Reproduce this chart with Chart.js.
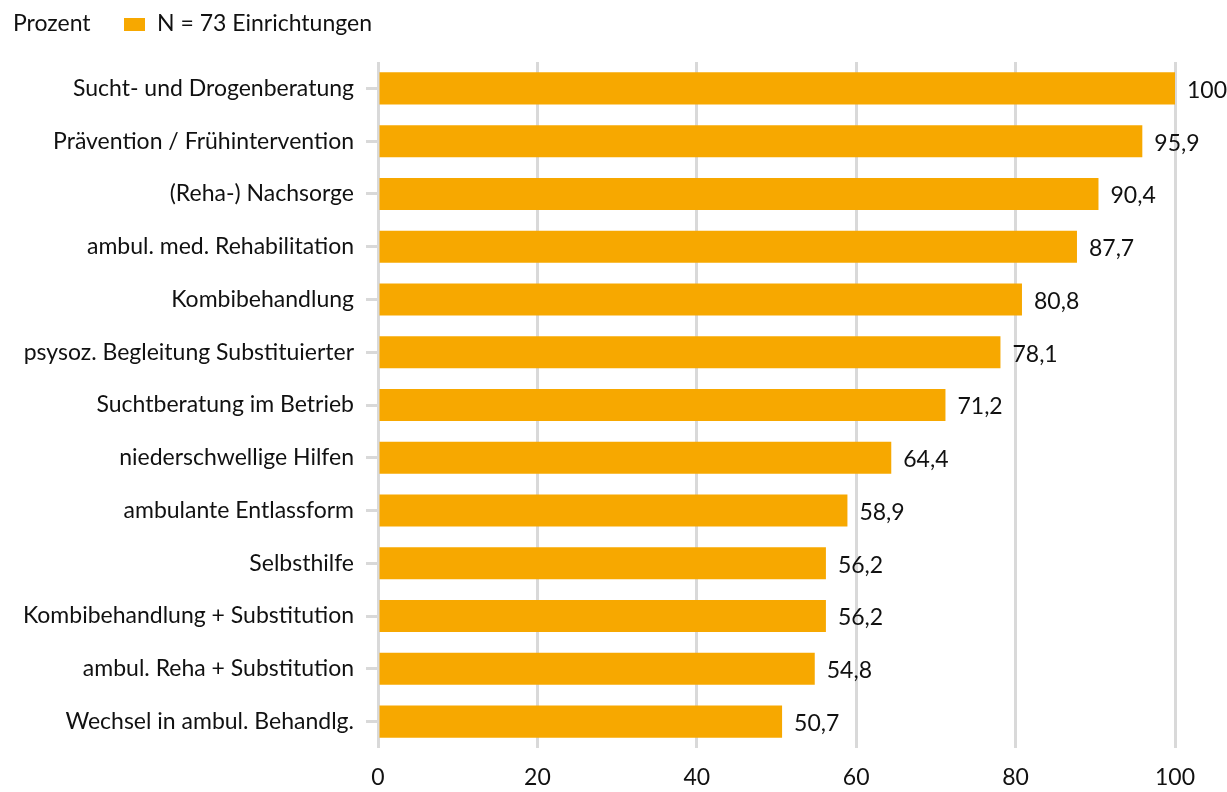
<!DOCTYPE html>
<html>
<head>
<meta charset="utf-8">
<script src="https://cdn.jsdelivr.net/npm/chart.js@4"></script>
<style>
  html, body { margin: 0; padding: 0; background: #fff; }
  #wrap { width: 1227px; height: 792px; }
</style>
</head>
<body>
<div id="wrap"><canvas id="barChart"></canvas></div>
<script>
// chart data
const categories = [
  'Sucht- und Drogenberatung',
  'Prävention / Frühintervention',
  '(Reha-) Nachsorge',
  'ambul. med. Rehabilitation',
  'Kombibehandlung',
  'psysoz. Begleitung Substituierter',
  'Suchtberatung im Betrieb',
  'niederschwellige Hilfen',
  'ambulante Entlassform',
  'Selbsthilfe',
  'Kombibehandlung + Substitution',
  'ambul. Reha + Substitution',
  'Wechsel in ambul. Behandlg.',
];
const values = [100, 95.9, 90.4, 87.7, 80.8, 78.1, 71.2, 64.4, 58.9, 56.2, 56.2, 54.8, 50.7];
const xTicks = [0, 20, 40, 60, 80, 100];
const unitLabel = 'Prozent';
const seriesLabel = 'N = 73 Einrichtungen';

// styles
const orange = '#F7A800';
const grid = '#D9D9D9';
const textColor = '#111111';
const font = 'Lato';
const fontSize = 23;

// draws "Prozent" + legend box on top row
const legendRow = {
  id: 'legendRow',
  afterDraw(chart) {
    const ctx = chart.ctx;
    ctx.save();
    ctx.font = `${fontSize}px ${font}`;
    ctx.fillStyle = textColor;
    ctx.textBaseline = 'middle';
    ctx.textAlign = 'left';
    ctx.fillText(unitLabel, 13, 24);
    ctx.fillStyle = orange;
    ctx.fillRect(124, 18, 21, 13);
    ctx.fillStyle = textColor;
    ctx.fillText(seriesLabel, 157, 24);
    ctx.restore();
  },
};

// value labels at the end of each bar
const valueLabels = {
  id: 'valueLabels',
  afterDatasetsDraw(chart) {
    const ctx = chart.ctx;
    const meta = chart.getDatasetMeta(0);
    ctx.save();
    ctx.font = `${fontSize}px ${font}`;
    ctx.fillStyle = textColor;
    ctx.textBaseline = 'middle';
    ctx.textAlign = 'left';
    meta.data.forEach((bar, i) => {
      const txt = String(values[i]).replace('.', ',');
      ctx.fillText(txt, bar.x + 12, bar.y + 2);
    });
    ctx.restore();
  },
};

const config = {
  type: 'bar',
  data: {
    labels: categories,
    datasets: [
      {
        label: seriesLabel,
        data: values,
        backgroundColor: orange,
        borderWidth: 0,
        categoryPercentage: 1,
        barPercentage: 0.607,
      },
    ],
  },
  options: {
    indexAxis: 'y',
    responsive: true,
    maintainAspectRatio: false,
    animation: false,
    events: [],
    layout: {
      padding: { top: 62, right: 52, bottom: 0, left: 10 },
    },
    scales: {
      x: {
        min: 0,
        max: 100,
        afterBuildTicks: (scale) => {
          scale.ticks = xTicks.map((v) => ({ value: v }));
        },
        afterFit: (scale) => {
          scale.height = 44;
        },
        ticks: {
          color: textColor,
          font: { family: font, size: fontSize },
          padding: 16,
          maxRotation: 0,
        },
        grid: {
          color: grid,
          lineWidth: 3,
          drawTicks: false,
        },
        border: { display: false },
      },
      y: {
        afterFit: (scale) => {
          scale.width = 368;
        },
        ticks: {
          color: textColor,
          font: { family: font, size: fontSize },
          padding: 12,
        },
        grid: {
          offset: false,
          drawOnChartArea: false,
          color: grid,
          lineWidth: 3,
          tickLength: 12,
        },
        border: { display: false },
      },
    },
    plugins: {
      legend: { display: false },
      tooltip: { enabled: false },
    },
  },
  plugins: [legendRow, valueLabels],
};

const barChart = new Chart(document.getElementById('barChart'), config);
</script>
</body>
</html>
